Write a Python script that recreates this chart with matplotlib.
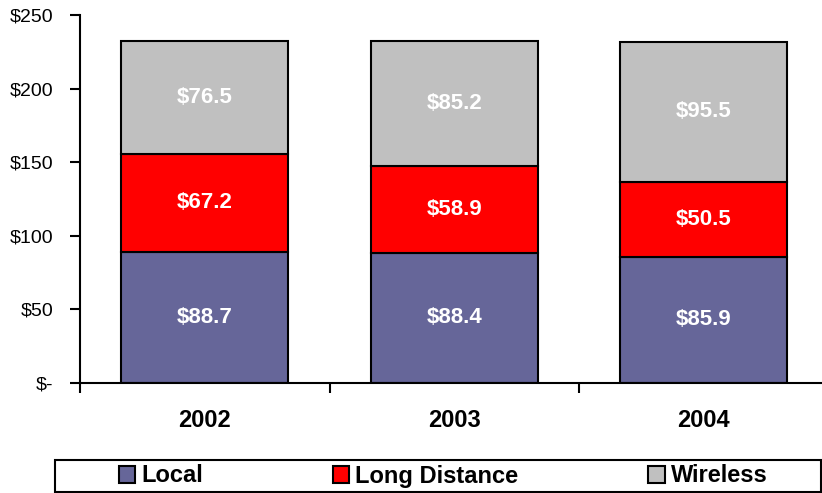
import numpy as np
import matplotlib
matplotlib.use('Agg')
import matplotlib.pyplot as plt
from matplotlib.ticker import FixedLocator, FuncFormatter
from matplotlib.patches import Rectangle

plt.rcParams['font.family'] = ['Liberation Sans', 'DejaVu Sans']

years = ['2002', '2003', '2004']
local = [88.7, 88.4, 85.9]
long_distance = [67.2, 58.9, 50.5]
wireless = [76.5, 85.2, 95.5]
series_names = ['Local', 'Long Distance', 'Wireless']
colors = ['#666699', '#FF0000', '#C0C0C0']

W, H = 822, 493
fig = plt.figure(figsize=(W / 100, H / 100), dpi=100)
ax = fig.add_axes([80 / W, 1 - 383 / H, (W - 80) / W, (383 - 15) / H])

x = np.arange(len(years))
bottom = np.zeros(len(years))
handles = []
for vals, name, c in zip([local, long_distance, wireless], series_names, colors):
    bars = ax.bar(x, vals, width=0.67, bottom=bottom, color=c, edgecolor='black',
                  linewidth=1.5, label=name)
    handles.append(bars)
    for xi, b, v in zip(x, bottom, vals):
        ax.text(xi, b + v / 2, '$%.1f' % v, ha='center', va='center', color='white',
                fontsize=16, fontweight='bold')
    bottom = bottom + np.array(vals)

ax.set_ylim(0, 250)
ax.set_xlim(-0.5, -0.5 + (W - 80) / 249.5)
ax.set_yticks([0, 50, 100, 150, 200, 250])
ax.yaxis.set_major_formatter(FuncFormatter(lambda v, p: '$-' if v == 0 else '$%d' % v))
ax.tick_params(axis='y', direction='out', length=7, width=1.5, labelsize=14, pad=12)

ax.set_xticks(x)
ax.set_xticklabels(years, fontsize=17, fontweight='bold')
ax.tick_params(axis='x', which='major', length=0, pad=19)
ax.xaxis.set_minor_locator(FixedLocator([-0.5, 0.5, 1.5, 2.5]))
ax.tick_params(axis='x', which='minor', direction='out', length=7, width=1.5)

for s in ['top', 'right']:
    ax.spines[s].set_visible(False)
for s in ['left', 'bottom']:
    ax.spines[s].set_linewidth(1.5)

# legend box across the bottom
fig.patches.append(Rectangle((55 / W, 1 / H), (W - 56) / W, 32 / H, transform=fig.transFigure,
                             facecolor='white', edgecolor='black', linewidth=1.5))
leg = fig.legend(handles=handles, labels=series_names, loc='center',
                 bbox_to_anchor=(443 / W, 17 / H), ncol=3, frameon=False,
                 handlelength=0.7, handleheight=0.7, handletextpad=0.25,
                 columnspacing=5.5, borderaxespad=0, borderpad=0,
                 prop={'size': 17, 'weight': 'bold'})
for p in leg.get_patches():
    p.set_linewidth(1.5)

fig.savefig('out.png', dpi=100)
